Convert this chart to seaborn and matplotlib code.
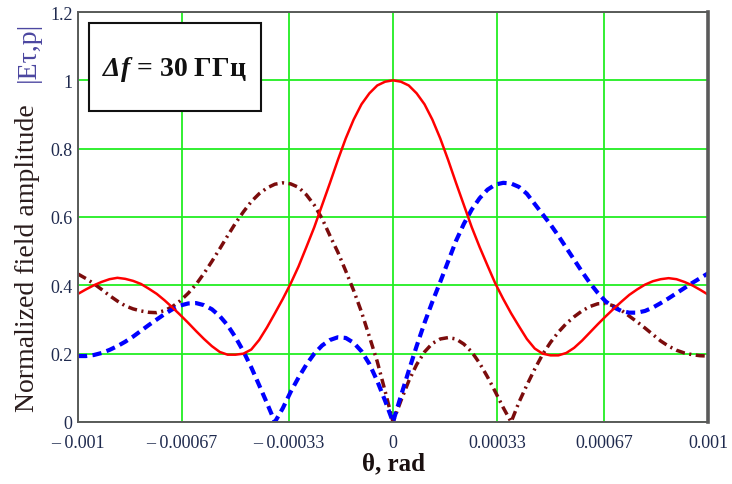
import numpy as np
import matplotlib
matplotlib.use("Agg")
import matplotlib.pyplot as plt
import seaborn as sns

# angle in mrad (converted to rad below)
theta_mrad = [-1.0, -0.975, -0.95, -0.925, -0.9, -0.875, -0.85, -0.825, -0.8, -0.775,
              -0.75, -0.725, -0.7, -0.675, -0.65, -0.625, -0.6, -0.575, -0.55, -0.525,
              -0.5, -0.475, -0.45, -0.425, -0.4, -0.375, -0.35, -0.325, -0.3, -0.275,
              -0.25, -0.225, -0.2, -0.175, -0.15, -0.125, -0.1, -0.075, -0.05, -0.025,
              0.0,
              0.025, 0.05, 0.075, 0.1, 0.125, 0.15, 0.175, 0.2, 0.225, 0.25,
              0.275, 0.3, 0.325, 0.35, 0.375, 0.4, 0.425, 0.45, 0.475, 0.5,
              0.525, 0.55, 0.575, 0.6, 0.625, 0.65, 0.675, 0.7, 0.725, 0.75,
              0.775, 0.8, 0.825, 0.85, 0.875, 0.9, 0.925, 0.95, 0.975, 1.0]

red_solid = [0.375, 0.388, 0.40, 0.41, 0.418, 0.422, 0.419, 0.413, 0.404, 0.39,
             0.375, 0.356, 0.335, 0.313, 0.29, 0.266, 0.243, 0.222, 0.205, 0.197,
             0.197, 0.2, 0.212, 0.24, 0.277, 0.318, 0.36, 0.405, 0.455, 0.512,
             0.57, 0.635, 0.70, 0.767, 0.83, 0.885, 0.93, 0.962, 0.985, 0.996,
             1.0,
             0.996, 0.985, 0.962, 0.93, 0.885, 0.83, 0.767, 0.70, 0.635, 0.57,
             0.512, 0.458, 0.405, 0.36, 0.318, 0.28, 0.243, 0.215, 0.2, 0.195,
             0.195, 0.202, 0.217, 0.238, 0.262, 0.286, 0.309, 0.331, 0.352, 0.372,
             0.388, 0.402, 0.412, 0.418, 0.421, 0.418, 0.41, 0.4, 0.387, 0.373]

blue_dashed = [0.193, 0.193, 0.196, 0.202, 0.211, 0.222, 0.235, 0.25, 0.267, 0.284,
               0.30, 0.316, 0.33, 0.341, 0.347, 0.348, 0.342, 0.33, 0.31, 0.283,
               0.248, 0.207, 0.16, 0.108, 0.055, 0.0, 0.04, 0.088, 0.13, 0.168,
               0.2, 0.224, 0.24, 0.248, 0.246, 0.232, 0.207, 0.17, 0.12, 0.062,
               0.0,
               0.076, 0.15, 0.222, 0.29, 0.352, 0.41, 0.47, 0.53, 0.58, 0.622,
               0.655, 0.68, 0.695, 0.70, 0.698, 0.688, 0.668, 0.638, 0.608, 0.578,
               0.545, 0.51, 0.475, 0.44, 0.407, 0.378, 0.353, 0.336, 0.325, 0.32,
               0.32, 0.325, 0.335, 0.348, 0.362, 0.377, 0.392, 0.407, 0.421, 0.435]

dark_dashdot = [0.433, 0.42, 0.405, 0.388, 0.37, 0.354, 0.34, 0.331, 0.325, 0.321,
                0.32, 0.326, 0.338, 0.355, 0.377, 0.403, 0.435, 0.47, 0.507, 0.545,
                0.582, 0.615, 0.645, 0.668, 0.685, 0.696, 0.70, 0.697, 0.687, 0.665,
                0.635, 0.595, 0.545, 0.497, 0.442, 0.385, 0.322, 0.25, 0.177, 0.09,
                0.0,
                0.062, 0.12, 0.168, 0.205, 0.23, 0.243, 0.247, 0.243, 0.228, 0.205,
                0.172, 0.132, 0.088, 0.042, 0.0, 0.058, 0.108, 0.155, 0.198, 0.233,
                0.263, 0.288, 0.308, 0.325, 0.338, 0.346, 0.347, 0.34, 0.327, 0.31,
                0.293, 0.275, 0.256, 0.237, 0.222, 0.21, 0.202, 0.197, 0.194, 0.193]

x_ticks = [-0.001, -0.00067, -0.00033, 0, 0.00033, 0.00067, 0.001]
x_tick_labels = ["\u2013 0.001", "\u2013 0.00067", "\u2013 0.00033", "0",
                 "0.00033", "0.00067", "0.001"]
y_ticks = [0, 0.2, 0.4, 0.6, 0.8, 1.0, 1.2]
y_tick_labels = ["0", "0.2", "0.4", "0.6", "0.8", "1", "1.2"]

theta = np.array(theta_mrad) * 1e-3

sns.set_style("white")
plt.rcParams["font.family"] = ["Liberation Serif", "DejaVu Serif"]
plt.rcParams["mathtext.fontset"] = "custom"
plt.rcParams["mathtext.bfit"] = "Liberation Serif:italic:bold"
plt.rcParams["mathtext.rm"] = "Liberation Serif"

fig = plt.figure(figsize=(7.32, 4.85), dpi=100)
ax = fig.add_axes([78 / 732, 62 / 485, 630 / 732, 410 / 485])

sns.lineplot(x=theta, y=dark_dashdot, ax=ax, color="#7b0c0c", linewidth=2.5,
             linestyle=(0, (2.6, 1.3, 0.6, 1.3)), sort=False)
sns.lineplot(x=theta, y=blue_dashed, ax=ax, color="#0000ff", linewidth=3.0,
             linestyle=(0, (2.2, 1.3)), sort=False)
sns.lineplot(x=theta, y=red_solid, ax=ax, color="#ff0000", linewidth=1.8, sort=False)

ax.set_xlim(-0.001, 0.001)
ax.set_ylim(0, 1.2)
ax.set_xticks(x_ticks)
ax.set_xticklabels(x_tick_labels)
ax.set_yticks(y_ticks)
ax.set_yticklabels(y_tick_labels)
ax.tick_params(axis="both", length=0, labelsize=13, labelcolor="#1f2a4e")
ax.tick_params(axis="x", pad=9)
ax.tick_params(axis="y", pad=4)
ax.grid(True, color="#22ee22", linewidth=1.3)
ax.set_axisbelow(True)
for side, sp in ax.spines.items():
    sp.set_visible(True)
    sp.set_color("#5a5a5a")
    sp.set_linewidth(1.4)
ax.spines["right"].set_linewidth(2.6)

ax.set_xlabel("\u03b8, rad", fontsize=18, fontweight="bold", color="#1a1010", labelpad=0)

fig.text(28 / 732, 1 - 258 / 485, "Normalized field amplitude", rotation=90,
         ha="center", va="center", fontsize=20, color="#2a1c1c")
fig.text(28 / 732, 1 - 52 / 485, "|E\u03c4,p|", rotation=90,
         ha="center", va="center", fontsize=20, color="#4b46a0")

# label box in the upper left corner
box = plt.Rectangle(((89 - 78) / 630, (423 - 112) / 410), 172 / 630, 88 / 410,
                    transform=ax.transAxes, fill=True, fc="white", ec="#111111",
                    lw=1.5, zorder=3)
ax.add_patch(box)
ax.text((174 - 78) / 630, (423 - 70) / 410,
        "$\\mathbfit{\\Delta f}$ = 30 \u0413\u0413\u0446", transform=ax.transAxes,
        fontsize=20, fontweight="bold", color="#111111", ha="center", va="center",
        zorder=4)

fig.savefig("out.png", dpi=100)
